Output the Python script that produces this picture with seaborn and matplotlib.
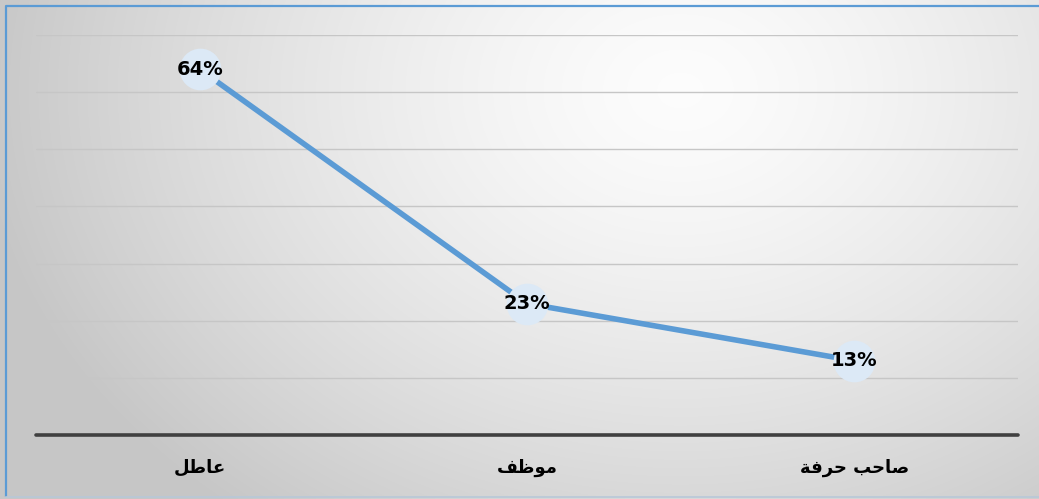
import numpy as np
import pandas as pd
import matplotlib
matplotlib.use("Agg")
import matplotlib.pyplot as plt
import seaborn as sns

# ---- data ----
categories = ["عاطل", "موظف", "صاحب حرفة"]
values = [64, 23, 13]
value_labels = ["64%", "23%", "13%"]

# ---- minimal Arabic shaping (matplotlib has no text shaping) ----
FORMS = {
    "ع": ("\uFEC9", "\uFECA", "\uFECB", "\uFECC"),
    "ا": ("\uFE8D", "\uFE8E", None, None),
    "ط": ("\uFEC1", "\uFEC2", "\uFEC3", "\uFEC4"),
    "ل": ("\uFEDD", "\uFEDE", "\uFEDF", "\uFEE0"),
    "م": ("\uFEE1", "\uFEE2", "\uFEE3", "\uFEE4"),
    "و": ("\uFEED", "\uFEEE", None, None),
    "ظ": ("\uFEC5", "\uFEC6", "\uFEC7", "\uFEC8"),
    "ف": ("\uFED1", "\uFED2", "\uFED3", "\uFED4"),
    "ص": ("\uFEB9", "\uFEBA", "\uFEBB", "\uFEBC"),
    "ح": ("\uFEA1", "\uFEA2", "\uFEA3", "\uFEA4"),
    "ب": ("\uFE8F", "\uFE90", "\uFE91", "\uFE92"),
    "ر": ("\uFEAD", "\uFEAE", None, None),
    "ة": ("\uFE93", "\uFE94", None, None),
}


def shape_word(word):
    out = []
    n = len(word)
    for i, ch in enumerate(word):
        f = FORMS.get(ch)
        if f is None:
            out.append(ch)
            continue
        prev = word[i - 1] if i > 0 else None
        nxt = word[i + 1] if i < n - 1 else None
        join_prev = prev in FORMS and FORMS[prev][2] is not None
        join_next = nxt in FORMS and f[2] is not None
        if join_prev and join_next:
            out.append(f[3])
        elif join_prev:
            out.append(f[1])
        elif join_next:
            out.append(f[2])
        else:
            out.append(f[0])
    return "".join(out)


def shape(text):
    words = [shape_word(w) for w in text.split(" ")]
    return " ".join(words)[::-1]


W, H = 1039, 499
fig = plt.figure(figsize=(W / 100, H / 100), dpi=100)

# background gradient
bg = fig.add_axes([0, 0, 1, 1], zorder=-10)
yy, xx = np.mgrid[0:H, 0:W]
cx, cy = 680, 90
d = np.sqrt(((xx - cx) / 700.0) ** 2 + ((yy - cy) / 540.0) ** 2)
d = np.clip(d, 0, 1)
shade = 0.99 - 0.21 * d ** 1.4
img = np.dstack([shade, shade, shade])
bg.imshow(img, aspect="auto", extent=[0, W, H, 0])
bg.set_xlim(0, W)
bg.set_ylim(H, 0)
bg.axis("off")
bg.plot([6, 6, W + 5], [H - 2, 6, 6], color="#5b9bd5", lw=1.6, solid_capstyle="butt")
bg.plot([6, W + 5], [H - 2, H - 2], color="#b8c8d8", lw=1.2)

sns.set_style("white")
plt.rcParams["font.family"] = ["DejaVu Sans"]

left, right = 36 / W, 1018 / W
bottom, top = (H - 435) / H, (H - 35) / H
ax = fig.add_axes([left, bottom, right - left, top - bottom])
ax.set_facecolor("none")

df = pd.DataFrame({"cat": categories, "val": values})
sns.lineplot(data=df, x="cat", y="val", ax=ax, color="#5b9bd5", linewidth=4.0,
             marker="o", markersize=30, markerfacecolor="#dce9f6",
             markeredgewidth=0, sort=False, zorder=3)

for i, (v, lab) in enumerate(zip(values, value_labels)):
    ax.text(i, v, lab, ha="center", va="center", fontsize=14, fontweight="bold",
            color="black", zorder=5)

ax.set_xlim(-0.5, 2.5)
ax.set_ylim(0, 70)
ax.set_yticks(np.arange(0, 71, 10))
for yv in range(10, 71, 10):
    ax.axhline(yv, color="#c6c6c6", lw=1.0, zorder=1)
ax.axhline(0, color="#404040", lw=2.6, zorder=2, clip_on=False)

ax.set_xticks(range(len(categories)))
ax.set_xticklabels([shape(c) for c in categories], fontsize=13, fontweight="bold",
                   color="black")
ax.tick_params(axis="x", length=0, pad=17)
ax.tick_params(axis="y", left=False, labelleft=False)
ax.set_xlabel("")
ax.set_ylabel("")
for s in ax.spines.values():
    s.set_visible(False)

fig.savefig("out.png", dpi=100)
